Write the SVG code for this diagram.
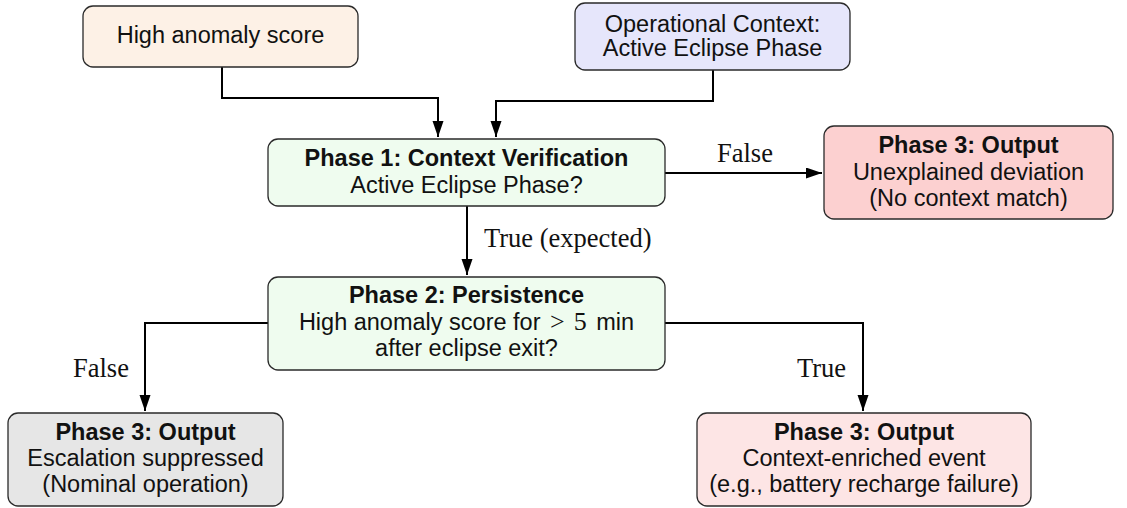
<svg xmlns="http://www.w3.org/2000/svg" width="1127" height="508" viewBox="0 0 1127 508">
<style>
.box{stroke:#2a2a2a;stroke-width:1.3}
.t{font-family:"Liberation Sans",Arial,sans-serif;font-size:23.5px;fill:#111;text-anchor:middle}
.b{font-weight:bold}
.lbl{font-family:"Liberation Serif","Times New Roman",serif;font-size:26.5px;fill:#111}
.m{font-family:"Liberation Serif","Times New Roman",serif;font-size:26px}
.c{fill:none;stroke:#000;stroke-width:2}
</style>
<defs>
<marker id="arr" markerUnits="userSpaceOnUse" markerWidth="17" markerHeight="12" refX="16" refY="5.5" orient="auto">
<path d="M0,0 L16,5.5 L0,11 z" fill="#000"/>
</marker>
</defs>
<rect width="1127" height="508" fill="#fff"/>
<g id="connectors">
<path class="c" d="M222,67 V98 H438 V137" marker-end="url(#arr)"/>
<path class="c" d="M713,70 V101 H496 V137" marker-end="url(#arr)"/>
<path class="c" d="M467,206 V275" marker-end="url(#arr)"/>
<path class="c" d="M665,173 H822" marker-end="url(#arr)"/>
<path class="c" d="M268,323 H145 V411" marker-end="url(#arr)"/>
<path class="c" d="M665,323 H863 V411" marker-end="url(#arr)"/>
<text class="lbl" x="484" y="247">True (expected)</text>
<text class="lbl" x="717" y="162">False</text>
<text class="lbl" x="73" y="377">False</text>
<text class="lbl" x="797" y="377">True</text>
</g>
<g id="n-score">
<rect class="box" x="83" y="6" width="275" height="61" rx="10" fill="#fdf1e6"/>
<text class="t" x="220.5" y="43">High anomaly score</text>
</g>
<g id="n-context">
<rect class="box" x="575" y="3" width="275" height="67" rx="10" fill="#e6e6fb"/>
<text class="t" x="712.5" y="32">Operational Context:</text>
<text class="t" x="712.5" y="56">Active Eclipse Phase</text>
</g>
<g id="n-phase1">
<rect class="box" x="268" y="139" width="397" height="67" rx="10" fill="#effcef"/>
<text class="t b" x="466.5" y="166">Phase 1: Context Verification</text>
<text class="t" x="466.5" y="193">Active Eclipse Phase?</text>
</g>
<g id="n-unexplained">
<rect class="box" x="824" y="126" width="289" height="93" rx="10" fill="#fcd0d0"/>
<text class="t b" x="968.5" y="153">Phase 3: Output</text>
<text class="t" x="968.5" y="180">Unexplained deviation</text>
<text class="t" x="968.5" y="206">(No context match)</text>
</g>
<g id="n-phase2">
<rect class="box" x="268" y="277" width="397" height="93" rx="10" fill="#effcef"/>
<text class="t b" x="466.5" y="303">Phase 2: Persistence</text>
<text class="t" x="466.5" y="330">High anomaly score for <tspan class="m" dx="3">&gt;</tspan><tspan class="m" dx="9">5</tspan><tspan dx="3"> min</tspan></text>
<text class="t" x="466.5" y="356">after eclipse exit?</text>
</g>
<g id="n-suppressed">
<rect class="box" x="8" y="413" width="275" height="93" rx="10" fill="#e6e6e6"/>
<text class="t b" x="145.5" y="440">Phase 3: Output</text>
<text class="t" x="145.5" y="466">Escalation suppressed</text>
<text class="t" x="145.5" y="492">(Nominal operation)</text>
</g>
<g id="n-enriched">
<rect class="box" x="697" y="413" width="334" height="93" rx="10" fill="#fde5e5"/>
<text class="t b" x="864" y="440">Phase 3: Output</text>
<text class="t" x="864" y="466">Context-enriched event</text>
<text class="t" x="864" y="492">(e.g., battery recharge failure)</text>
</g>
</svg>
